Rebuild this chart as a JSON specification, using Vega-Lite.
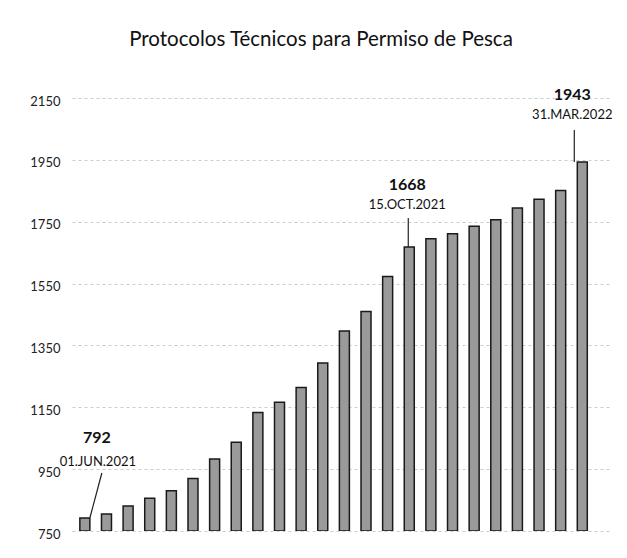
{
  "$schema": "https://vega.github.io/schema/vega-lite/v6.json",
  "autosize": {"type": "none"},
  "width": 538,
  "height": 433,
  "padding": {"left": 72, "top": 98, "right": 17, "bottom": 27},
  "background": "white",
  "title": {
    "text": "Protocolos Técnicos para Permiso de Pesca",
    "fontSize": 20.5,
    "font": "Lato",
    "fontWeight": "normal",
    "color": "#111",
    "anchor": "middle",
    "dx": -20,
    "offset": 37
  },
  "config": {
    "view": {"stroke": null},
    "axis": {"labelFont": "Lato"}
  },
  "datasets": {
    "main": [
      {"idx": 1, "value": 792},
      {"idx": 2, "value": 805},
      {"idx": 3, "value": 831},
      {"idx": 4, "value": 856},
      {"idx": 5, "value": 880},
      {"idx": 6, "value": 920},
      {"idx": 7, "value": 983},
      {"idx": 8, "value": 1037},
      {"idx": 9, "value": 1133},
      {"idx": 10, "value": 1166},
      {"idx": 11, "value": 1214},
      {"idx": 12, "value": 1293},
      {"idx": 13, "value": 1397},
      {"idx": 14, "value": 1460},
      {"idx": 15, "value": 1573},
      {"idx": 16, "value": 1668},
      {"idx": 17, "value": 1695},
      {"idx": 18, "value": 1711},
      {"idx": 19, "value": 1735},
      {"idx": 20, "value": 1756},
      {"idx": 21, "value": 1794},
      {"idx": 22, "value": 1823},
      {"idx": 23, "value": 1851},
      {"idx": 24, "value": 1943}
    ],
    "notes": [
      {"idx": 1, "value": 792, "date": "01.JUN.2021"},
      {"idx": 16, "value": 1668, "date": "15.OCT.2021"},
      {"idx": 24, "value": 1943, "date": "31.MAR.2022"}
    ]
  },
  "layer": [
    {
      "data": {"name": "main"},
      "mark": {"type": "bar", "width": 10, "fill": "#9a9a9a", "stroke": "#1a1a1a", "strokeWidth": 1.5, "clip": true},
      "encoding": {
        "x": {"field": "idx", "type": "quantitative", "scale": {"domain": [0.637, 25.05], "nice": false, "zero": false}, "axis": null},
        "y": {"field": "value", "type": "quantitative", "scale": {"domain": [750, 2150], "nice": false, "zero": false},
          "axis": {"values": [750, 950, 1150, 1350, 1550, 1750, 1950, 2150], "format": "d", "title": null, "domain": false, "ticks": false,
            "labelFontSize": 13, "labelColor": "#222", "labelPadding": 12, "labelOffset": 3,
            "gridColor": "#999", "gridDash": [3, 3], "gridOpacity": 0.5}},
        "y2": {"datum": 750}
      }
    },
    {
      "data": {"name": "notes"},
      "transform": [{"filter": "datum.idx == 1"}],
      "layer": [
        {"mark": {"type": "text", "dx": 12, "dy": -80, "fontSize": 16, "fontWeight": "bold", "font": "Lato", "color": "#111"},
          "encoding": {"x": {"field": "idx", "type": "quantitative"}, "y": {"field": "value", "type": "quantitative"}, "text": {"field": "value"}}},
        {"mark": {"type": "text", "dx": 13, "dy": -56, "fontSize": 13, "font": "Lato", "color": "#111"},
          "encoding": {"x": {"field": "idx", "type": "quantitative"}, "y": {"field": "value", "type": "quantitative"}, "text": {"field": "date"}}},
        {"mark": {"type": "rule", "color": "#222", "strokeWidth": 1.2, "xOffset": 5, "x2Offset": 17, "y2Offset": -45},
          "encoding": {"x": {"field": "idx", "type": "quantitative"}, "x2": {"field": "idx"}, "y": {"field": "value", "type": "quantitative"}, "y2": {"field": "value"}}}
      ]
    },
    {
      "data": {"name": "notes"},
      "transform": [{"filter": "datum.idx == 16"}],
      "layer": [
        {"mark": {"type": "text", "dx": -2, "dy": -62, "fontSize": 16, "fontWeight": "bold", "font": "Lato", "color": "#111"},
          "encoding": {"x": {"field": "idx", "type": "quantitative"}, "y": {"field": "value", "type": "quantitative"}, "text": {"field": "value"}}},
        {"mark": {"type": "text", "dx": -2, "dy": -42, "fontSize": 13, "font": "Lato", "color": "#111"},
          "encoding": {"x": {"field": "idx", "type": "quantitative"}, "y": {"field": "value", "type": "quantitative"}, "text": {"field": "date"}}},
        {"mark": {"type": "rule", "color": "#222", "strokeWidth": 1.2, "xOffset": -1, "x2Offset": -1, "y2Offset": -29},
          "encoding": {"x": {"field": "idx", "type": "quantitative"}, "x2": {"field": "idx"}, "y": {"field": "value", "type": "quantitative"}, "y2": {"field": "value"}}}
      ]
    },
    {
      "data": {"name": "notes"},
      "transform": [{"filter": "datum.idx == 24"}],
      "layer": [
        {"mark": {"type": "text", "dx": -10, "dy": -67, "fontSize": 16, "fontWeight": "bold", "font": "Lato", "color": "#111"},
          "encoding": {"x": {"field": "idx", "type": "quantitative"}, "y": {"field": "value", "type": "quantitative"}, "text": {"field": "value"}}},
        {"mark": {"type": "text", "dx": -10, "dy": -47, "fontSize": 13, "font": "Lato", "color": "#111"},
          "encoding": {"x": {"field": "idx", "type": "quantitative"}, "y": {"field": "value", "type": "quantitative"}, "text": {"field": "date"}}},
        {"mark": {"type": "rule", "color": "#222", "strokeWidth": 1.2, "xOffset": -8, "x2Offset": -8, "y2Offset": -32},
          "encoding": {"x": {"field": "idx", "type": "quantitative"}, "x2": {"field": "idx"}, "y": {"field": "value", "type": "quantitative"}, "y2": {"field": "value"}}}
      ]
    }
  ]
}
